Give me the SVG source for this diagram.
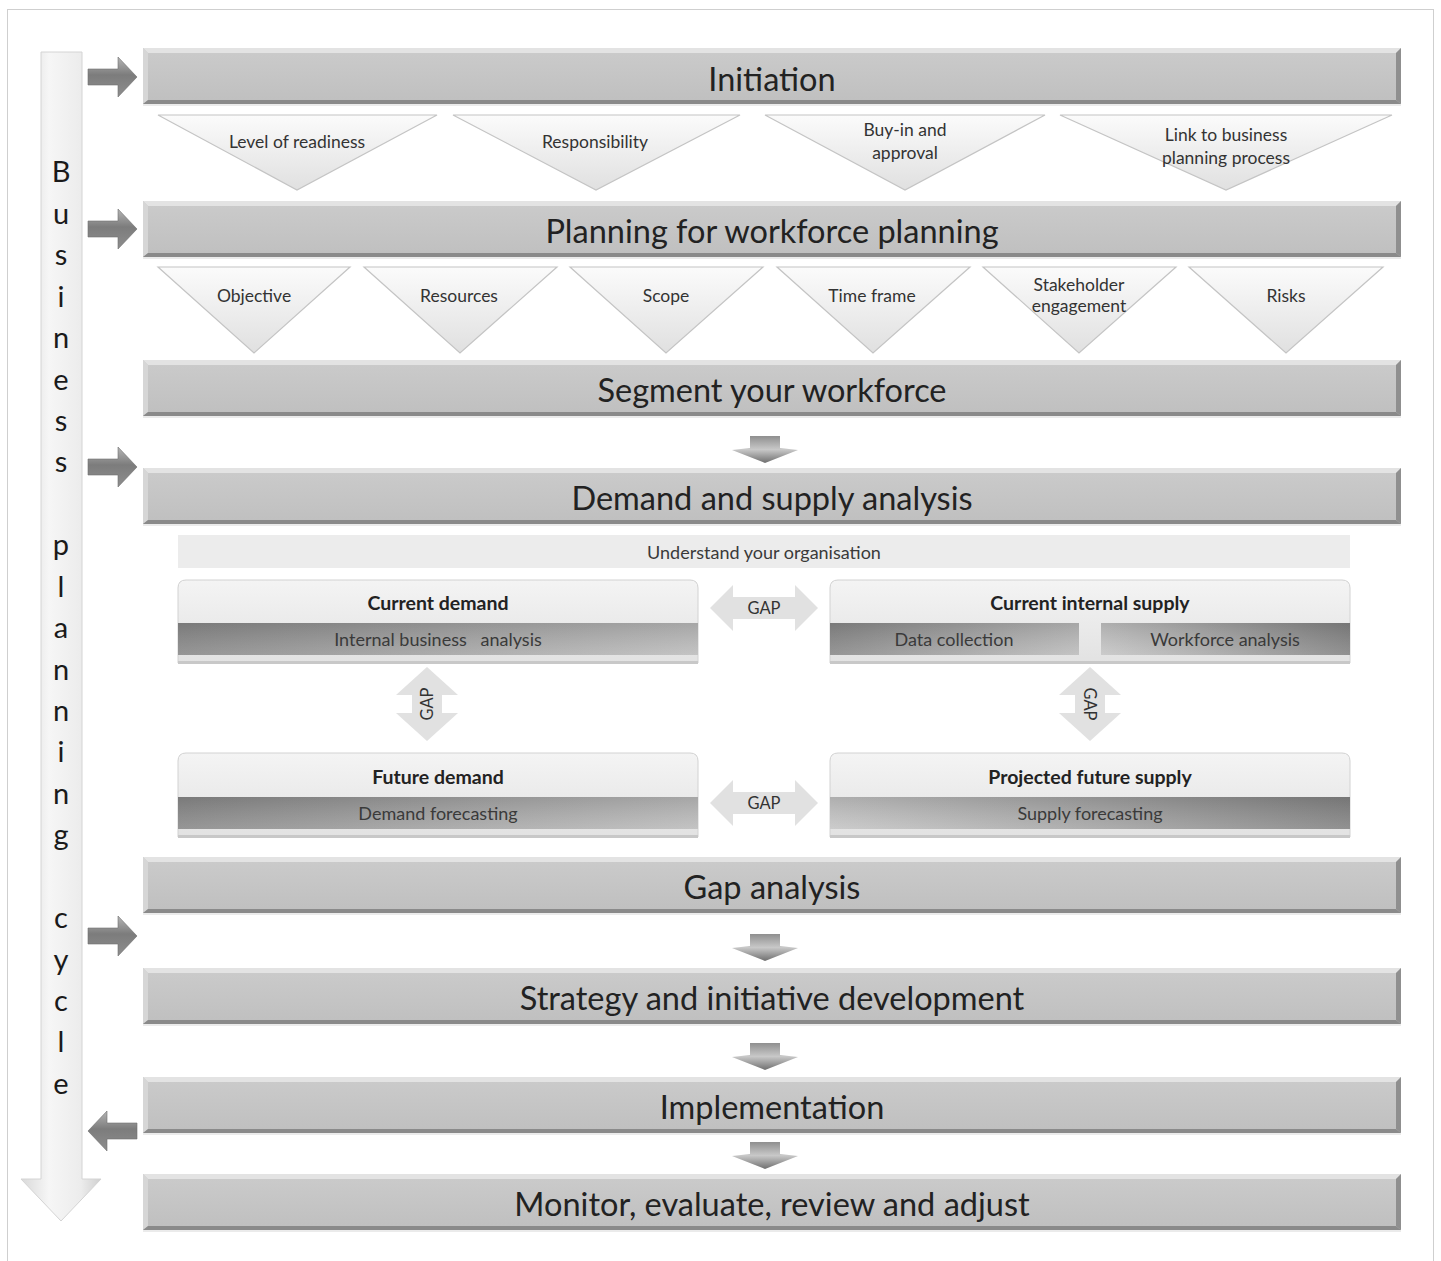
<svg xmlns="http://www.w3.org/2000/svg" width="1441" height="1261" viewBox="0 0 1441 1261">
  <style>
    .t { font-family: Lato, "Liberation Sans", sans-serif; fill: #222; text-anchor: middle; dominant-baseline: central; }
    .bar-t { font-size: 32.5px; }
    .tri-t { font-size: 17.5px; fill: #333; }
    .box-t { font-size: 19.5px; font-weight: bold; }
    .sub-t { font-size: 18px; fill: #3a3a3a; }
    .gap-t { font-size: 16.5px; fill: #333; }
    .cyc-t { font-size: 29px; fill: #1a1a1a; }
    .tri { fill: url(#triFill); stroke: #c4c4c4; stroke-width: 1.2; }
    .gap { fill: #e1e1e1; }
    .side { fill: url(#sideFill); stroke: #6e6e6e; stroke-width: 0.6; }
    .chev { fill: url(#chevFill); }
  </style>
  <defs>
    <linearGradient id="barFill" x1="0" y1="0" x2="0" y2="1">
      <stop offset="0" stop-color="#cbcbcb"/>
      <stop offset="1" stop-color="#bfbfbf"/>
    </linearGradient>
    <linearGradient id="triFill" x1="0" y1="0" x2="0" y2="1">
      <stop offset="0" stop-color="#fbfbfb"/>
      <stop offset="1" stop-color="#e0e0e0"/>
    </linearGradient>
    <linearGradient id="sideFill" x1="0" y1="0" x2="0" y2="1">
      <stop offset="0" stop-color="#b5b5b5"/>
      <stop offset="0.45" stop-color="#7c7c7c"/>
      <stop offset="1" stop-color="#8e8e8e"/>
    </linearGradient>
    <linearGradient id="chevFill" x1="0" y1="0" x2="0" y2="1">
      <stop offset="0" stop-color="#8f8f8f"/>
      <stop offset="0.5" stop-color="#c8c8c8"/>
      <stop offset="1" stop-color="#6f6f6f"/>
    </linearGradient>
    <linearGradient id="cycFill" x1="0" y1="0" x2="1" y2="0">
      <stop offset="0" stop-color="#d9d9d9"/>
      <stop offset="0.35" stop-color="#f6f6f6"/>
      <stop offset="0.75" stop-color="#ececec"/>
      <stop offset="1" stop-color="#cfcfcf"/>
    </linearGradient>
    <linearGradient id="boxTop" x1="0" y1="0" x2="0" y2="1">
      <stop offset="0" stop-color="#f4f4f4"/>
      <stop offset="1" stop-color="#e2e2e2"/>
    </linearGradient>
    <linearGradient id="subDarkL" x1="0" y1="0" x2="1" y2="0">
      <stop offset="0" stop-color="#8a8a8a"/>
      <stop offset="1" stop-color="#bdbdbd"/>
    </linearGradient>
    <linearGradient id="subDarkR" x1="0" y1="0" x2="1" y2="0">
      <stop offset="0" stop-color="#c6c6c6"/>
      <stop offset="1" stop-color="#858585"/>
    </linearGradient>
    <linearGradient id="subShade" x1="0" y1="0" x2="0" y2="1">
      <stop offset="0" stop-color="#000" stop-opacity="0.12"/>
      <stop offset="1" stop-color="#fff" stop-opacity="0.1"/>
    </linearGradient>

    <!-- bevelled process bar, 1258 x 56 -->
    <g id="bar">
      <rect x="0" y="2" width="1258" height="56" fill="#000" opacity="0.08"/>
      <rect x="0" y="0" width="1258" height="56" fill="url(#barFill)"/>
      <polygon points="0,0 1258,0 1253,5 5,5" fill="#e3e3e3"/>
      <polygon points="0,0 5,5 5,52 0,56" fill="#d6d6d6"/>
      <polygon points="0,56 5,52 1253,52 1258,56" fill="#8a8a8a"/>
      <polygon points="1258,0 1258,56 1253,52 1253,5" fill="#8f8f8f"/>
    </g>

    <!-- side arrows, tip at origin -->
    <path id="arrR" d="M-49,-8 L-19,-8 L-19,-20 L0,0 L-19,20 L-19,8 L-49,8 Z"/>
    <path id="arrL" d="M49,-8 L19,-8 L19,-20 L0,0 L19,20 L19,8 L49,8 Z"/>

    <!-- small downward chevron, top centre at origin -->
    <path id="chev" d="M-15,0 L15,0 L15,12 L33,14 L0,27 L-33,14 L-15,12 Z"/>

    <!-- double-headed GAP arrows centred at origin -->
    <path id="gapH" d="M-54,0 L-31,-23 L-31,-11 L31,-11 L31,-23 L54,0 L31,23 L31,11 L-31,11 L-31,23 Z"/>
    <path id="gapV" d="M0,-37 L31,-9 L15,-9 L15,9 L31,9 L0,37 L-31,9 L-15,9 L-15,-9 L-31,-9 Z"/>
  </defs>

  <rect x="0" y="0" width="1441" height="1261" fill="#fff"/>
  <rect x="7.5" y="9.5" width="1426" height="1262" fill="none" stroke="#cfcfcf" stroke-width="1"/>

  <!-- business planning cycle arrow -->
  <g id="cycle">
    <path d="M41,52 L82,52 L82,1179 L101,1179 L61,1221 L21,1179 L41,1179 Z" fill="url(#cycFill)" stroke="#d4d4d4" stroke-width="1"/>
    <g class="t cyc-t">
      <text x="61" y="170">B</text>
      <text x="61" y="212">u</text>
      <text x="61" y="253">s</text>
      <text x="61" y="295">i</text>
      <text x="61" y="336">n</text>
      <text x="61" y="378">e</text>
      <text x="61" y="419">s</text>
      <text x="61" y="460">s</text>
      <text x="61" y="543">p</text>
      <text x="61" y="585">l</text>
      <text x="61" y="626">a</text>
      <text x="61" y="668">n</text>
      <text x="61" y="709">n</text>
      <text x="61" y="750">i</text>
      <text x="61" y="792">n</text>
      <text x="61" y="833">g</text>
      <text x="61" y="916">c</text>
      <text x="61" y="958">y</text>
      <text x="61" y="999">c</text>
      <text x="61" y="1040">l</text>
      <text x="61" y="1082">e</text>
    </g>
  </g>

  <!-- connectors: side arrows and chevrons -->
  <g id="connectors">
    <use href="#arrR" class="side" x="137" y="77"/>
    <use href="#arrR" class="side" x="137" y="229"/>
    <use href="#arrR" class="side" x="137" y="467"/>
    <use href="#arrR" class="side" x="137" y="936"/>
    <use href="#arrL" class="side" x="88" y="1131"/>
    <use href="#chev" class="chev" x="765" y="436"/>
    <use href="#chev" class="chev" x="765" y="934"/>
    <use href="#chev" class="chev" x="765" y="1043"/>
    <use href="#chev" class="chev" x="765" y="1142"/>
  </g>

  <!-- process bars -->
  <g id="initiation">
    <use href="#bar" x="143" y="48"/>
    <text class="t bar-t" x="772" y="78">Initiation</text>
  </g>
  <g id="planning">
    <use href="#bar" x="143" y="201"/>
    <text class="t bar-t" x="772" y="230">Planning for workforce planning</text>
  </g>
  <g id="segment">
    <use href="#bar" x="143" y="360"/>
    <text class="t bar-t" x="772" y="389">Segment your workforce</text>
  </g>
  <g id="demand-supply">
    <use href="#bar" x="143" y="468"/>
    <text class="t bar-t" x="772" y="497">Demand and supply analysis</text>
  </g>
  <g id="gap-analysis">
    <use href="#bar" x="143" y="857"/>
    <text class="t bar-t" x="772" y="886">Gap analysis</text>
  </g>
  <g id="strategy">
    <use href="#bar" x="143" y="968"/>
    <text class="t bar-t" x="772" y="997">Strategy and initiative development</text>
  </g>
  <g id="implementation">
    <use href="#bar" x="143" y="1077"/>
    <text class="t bar-t" x="772" y="1106">Implementation</text>
  </g>
  <g id="monitor">
    <use href="#bar" x="143" y="1174"/>
    <text class="t bar-t" x="772" y="1203">Monitor, evaluate, review and adjust</text>
  </g>

  <!-- initiation factors -->
  <g id="readiness">
    <polygon class="tri" points="158,115 437,115 297,190"/>
    <text class="t tri-t" x="297" y="141">Level of readiness</text>
  </g>
  <g id="responsibility">
    <polygon class="tri" points="453,115 740,115 596,190"/>
    <text class="t tri-t" x="595" y="141">Responsibility</text>
  </g>
  <g id="buy-in">
    <polygon class="tri" points="765,115 1045,115 905,190"/>
    <text class="t tri-t" x="905" y="129">Buy-in and</text>
    <text class="t tri-t" x="905" y="152">approval</text>
  </g>
  <g id="link">
    <polygon class="tri" points="1060,115 1392,115 1226,190"/>
    <text class="t tri-t" x="1226" y="134">Link to business</text>
    <text class="t tri-t" x="1226" y="157">planning process</text>
  </g>

  <!-- planning factors -->
  <g id="objective">
    <polygon class="tri" points="158,267 350,267 254,353"/>
    <text class="t tri-t" x="254" y="295">Objective</text>
  </g>
  <g id="resources">
    <polygon class="tri" points="364,267 557,267 460,353"/>
    <text class="t tri-t" x="459" y="295">Resources</text>
  </g>
  <g id="scope">
    <polygon class="tri" points="570,267 763,267 666,353"/>
    <text class="t tri-t" x="666" y="295">Scope</text>
  </g>
  <g id="time-frame">
    <polygon class="tri" points="777,267 970,267 873,353"/>
    <text class="t tri-t" x="872" y="295">Time frame</text>
  </g>
  <g id="stakeholder">
    <polygon class="tri" points="983,267 1176,267 1079,353"/>
    <text class="t tri-t" x="1079" y="284">Stakeholder</text>
    <text class="t tri-t" x="1079" y="305">engagement</text>
  </g>
  <g id="risks">
    <polygon class="tri" points="1189,267 1383,267 1286,353"/>
    <text class="t tri-t" x="1286" y="295">Risks</text>
  </g>

  <!-- understand your organisation -->
  <g id="understand">
    <rect x="178" y="535" width="1172" height="33" fill="#ececec"/>
    <text class="t sub-t" x="764" y="552">Understand your organisation</text>
  </g>

  <!-- current demand -->
  <g id="current-demand">
    <path d="M178,663 L178,588 Q178,580 186,580 L690,580 Q698,580 698,588 L698,663 Z" fill="url(#boxTop)" stroke="#d2d2d2" stroke-width="1"/>
    <rect x="178" y="623" width="520" height="32" fill="url(#subDarkL)"/>
    <rect x="178" y="623" width="520" height="32" fill="url(#subShade)"/>
    <rect x="178" y="661" width="520" height="3" fill="#c8c8c8"/>
    <text class="t box-t" x="438" y="602">Current demand</text>
    <text class="t sub-t" x="438" y="639" xml:space="preserve">Internal business   analysis</text>
  </g>

  <!-- current internal supply -->
  <g id="current-supply">
    <path d="M830,663 L830,588 Q830,580 838,580 L1342,580 Q1350,580 1350,588 L1350,663 Z" fill="url(#boxTop)" stroke="#d2d2d2" stroke-width="1"/>
    <rect x="830" y="623" width="249" height="32" fill="url(#subDarkL)"/>
    <rect x="830" y="623" width="249" height="32" fill="url(#subShade)"/>
    <rect x="1101" y="623" width="249" height="32" fill="url(#subDarkR)"/>
    <rect x="1101" y="623" width="249" height="32" fill="url(#subShade)"/>
    <rect x="830" y="661" width="520" height="3" fill="#c8c8c8"/>
    <text class="t box-t" x="1090" y="602">Current internal supply</text>
    <text class="t sub-t" x="954" y="639">Data collection</text>
    <text class="t sub-t" x="1225" y="639">Workforce analysis</text>
  </g>

  <!-- future demand -->
  <g id="future-demand">
    <path d="M178,837 L178,761 Q178,753 186,753 L690,753 Q698,753 698,761 L698,837 Z" fill="url(#boxTop)" stroke="#d2d2d2" stroke-width="1"/>
    <rect x="178" y="797" width="520" height="32" fill="url(#subDarkL)"/>
    <rect x="178" y="797" width="520" height="32" fill="url(#subShade)"/>
    <rect x="178" y="835" width="520" height="3" fill="#c8c8c8"/>
    <text class="t box-t" x="438" y="776">Future demand</text>
    <text class="t sub-t" x="438" y="813">Demand forecasting</text>
  </g>

  <!-- projected future supply -->
  <g id="future-supply">
    <path d="M830,837 L830,761 Q830,753 838,753 L1342,753 Q1350,753 1350,761 L1350,837 Z" fill="url(#boxTop)" stroke="#d2d2d2" stroke-width="1"/>
    <rect x="830" y="797" width="520" height="32" fill="url(#subDarkR)"/>
    <rect x="830" y="797" width="520" height="32" fill="url(#subShade)"/>
    <rect x="830" y="835" width="520" height="3" fill="#c8c8c8"/>
    <text class="t box-t" x="1090" y="776">Projected future supply</text>
    <text class="t sub-t" x="1090" y="813">Supply forecasting</text>
  </g>

  <!-- GAP arrows -->
  <g id="gap-top">
    <use href="#gapH" class="gap" x="764" y="608"/>
    <text class="t gap-t" x="764" y="608">GAP</text>
  </g>
  <g id="gap-bottom">
    <use href="#gapH" class="gap" x="764" y="803"/>
    <text class="t gap-t" x="764" y="803">GAP</text>
  </g>
  <g id="gap-left">
    <use href="#gapV" class="gap" x="427" y="704"/>
    <text class="t gap-t" transform="translate(427,704) rotate(-90)">GAP</text>
  </g>
  <g id="gap-right">
    <use href="#gapV" class="gap" x="1090" y="704"/>
    <text class="t gap-t" transform="translate(1090,704) rotate(90)">GAP</text>
  </g>
</svg>
